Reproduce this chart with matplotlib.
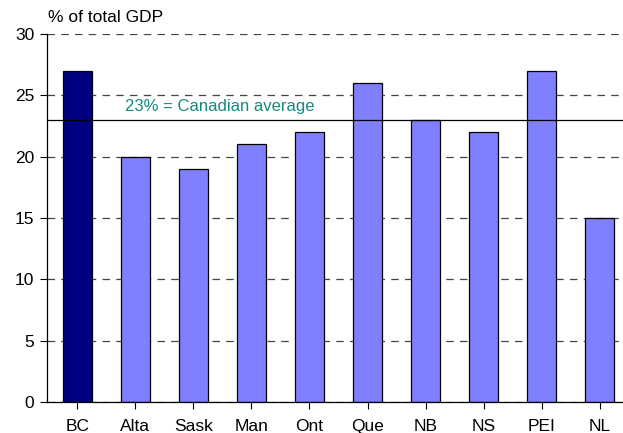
import numpy as np
import matplotlib.pyplot as plt

plt.rcParams['font.family'] = ['Liberation Sans', 'DejaVu Sans']

provinces = ['BC', 'Alta', 'Sask', 'Man', 'Ont', 'Que', 'NB', 'NS', 'PEI', 'NL']
share = [27, 20, 19, 21, 22, 26, 23, 22, 27, 15]
canada_avg = 23

colors = ['#000080'] + ['#8080FF'] * (len(provinces) - 1)

fig = plt.figure(figsize=(6.23, 4.33), dpi=100)
ax = fig.add_axes([47 / 623, 31 / 433, 576 / 623, 368 / 433])

x = np.arange(len(provinces))
ax.set_axisbelow(True)
ax.yaxis.grid(True, linestyle=(0, (6, 5)), color='#444444', linewidth=0.9)
ax.bar(x, share, width=0.5, color=colors, edgecolor='black', linewidth=0.9, zorder=2)
ax.axhline(canada_avg, color='black', linewidth=0.9, zorder=3)
ax.text(0.82, canada_avg + 0.5, '23% = Canadian average', color='#138a80',
        fontsize=12, va='bottom', ha='left')

ax.set_xlim(-0.52, 9.4)
ax.set_ylim(0, 30)
ax.set_yticks(range(0, 31, 5))
ax.set_xticks(x)
ax.set_xticklabels(provinces)
ax.tick_params(axis='both', labelsize=12.5, direction='out', length=5, width=0.8)
ax.tick_params(axis='x', pad=7)
ax.tick_params(axis='y', pad=4)

for s in ['top', 'right']:
    ax.spines[s].set_visible(False)
ax.spines['left'].set_linewidth(0.9)
ax.spines['bottom'].set_linewidth(0.9)

fig.text(48 / 623, 1 - 18 / 433, '% of total GDP', fontsize=12.5, va='center', ha='left')

fig.savefig('out.png', dpi=100)
